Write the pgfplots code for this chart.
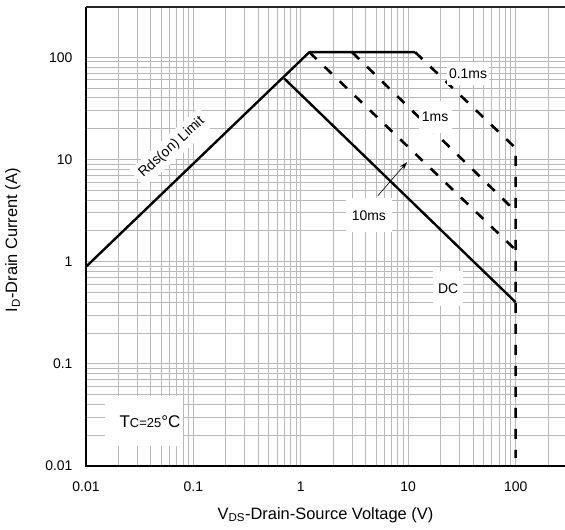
\documentclass[border=0pt]{standalone}
\usepackage{pgfplots}
\pgfplotsset{compat=1.18}
\usepackage{fontspec}
\setmainfont{Liberation Sans}
\usetikzlibrary{arrows.meta}

\definecolor{gridgray}{RGB}{185,185,185}

\begin{document}
\begin{tikzpicture}
\begin{axis}[
  scale only axis, width=479bp, height=459bp,
  xmode=log, ymode=log,
  xmin=0.01, xmax=288, ymin=0.01, ymax=310,
  xtick={0.01,0.1,1,10,100}, xticklabels={0.01,0.1,1,10,100},
  ytick={0.01,0.1,1,10,100}, yticklabels={0.01,0.1,1,10,100},
  minor xtick={0.02,0.03,0.04,0.05,0.06,0.07,0.08,0.09,0.2,0.3,0.4,0.5,0.6,0.7,0.8,0.9,2,3,4,5,6,7,8,9,20,30,40,50,60,70,80,90,200},
  minor ytick={0.02,0.03,0.04,0.05,0.06,0.07,0.08,0.09,0.2,0.3,0.4,0.5,0.6,0.7,0.8,0.9,2,3,4,5,6,7,8,9,20,30,40,50,60,70,80,90},
  grid=both,
  major grid style={gridgray, line width=0.8pt},
  minor grid style={gridgray, line width=0.8pt},
  axis line style={draw=none},
  major tick length=0pt, minor tick length=0pt,
  tick label style={font=\fontsize{14}{16}\selectfont},
  xticklabel style={yshift=-12bp},
  yticklabel style={xshift=-10bp},
  /pgf/number format/assume math mode=true,
  every axis x label/.style={at={(axis description cs:0.5,-0.1068)}, anchor=center,
    font=\fontsize{16.5}{19}\selectfont},
  every axis y label/.style={at={(axis description cs:-0.1524,0.492)}, rotate=90, anchor=center,
    font=\fontsize{16.5}{19}\selectfont},
  xlabel={V\textsubscript{DS}-Drain-Source Voltage (V)},
  ylabel={I\textsubscript{D}-Drain Current (A)},
  clip=false,
]

% Rds(on) limit and current limit
\addplot[black, line width=2.4pt] coordinates {(0.01,0.89) (1.2,112) (11.6,112)};
% DC
\addplot[black, line width=2.4pt] coordinates {(0.7,62) (100,0.40)};
% 0.1ms
\addplot[black, line width=2.6pt, dash pattern=on 10bp off 11bp] coordinates {(11.6,112) (97,13.3) (100,13.1) (100,0.012)};
% 1ms
\addplot[black, line width=2.6pt, dash pattern=on 10bp off 11bp] coordinates {(3.0,112) (100,3.1)};
% 10ms
\addplot[black, line width=2.6pt, dash pattern=on 10bp off 11bp] coordinates {(1.2,112) (100,1.3)};

% frame (no right edge)
\draw[black, line width=1.8pt] (rel axis cs:0,1) -- (rel axis cs:0,0) -- (rel axis cs:1,0);
\draw[black!85, line width=1.2pt] (rel axis cs:0,1) -- (rel axis cs:1,1);

% annotations
\tikzset{lbl/.style={fill=white, inner sep=0pt, font=\fontsize{14}{16}\selectfont}}
\node[lbl, minimum width=42bp, minimum height=23bp] at (axis cs:36,69.5) {0.1ms};
\node[lbl, minimum width=33bp, minimum height=32bp] at (axis cs:17.8,26.2) {1ms};
\node[lbl, minimum width=46bp, minimum height=34bp] at (axis cs:4.3,2.84) {10ms};
\node[lbl, minimum width=30bp, minimum height=35bp] at (axis cs:23.5,0.54) {DC};
\node[lbl, inner sep=5bp, rotate=42] at (axis cs:0.0628,13.1) {Rds(on) Limit};
\draw[-{Stealth[length=8bp,width=5bp]}, line width=0.6pt] (axis cs:5.2,4.4) -- (axis cs:9.75,9.4);

\fill[white] (axis cs:0.01503,0.01574) rectangle (axis cs:0.080,0.0479);
\node[anchor=center, inner sep=0pt] at (axis cs:0.0394,0.0274)
  {{\fontsize{17}{20}\selectfont T}{\fontsize{13}{15}\selectfont C=25}{\fontsize{17}{20}\selectfont °C}};
\end{axis}
\pgfresetboundingbox
\useasboundingbox (-86bp,-64bp) rectangle (479bp,466bp);
\end{tikzpicture}
\end{document}
